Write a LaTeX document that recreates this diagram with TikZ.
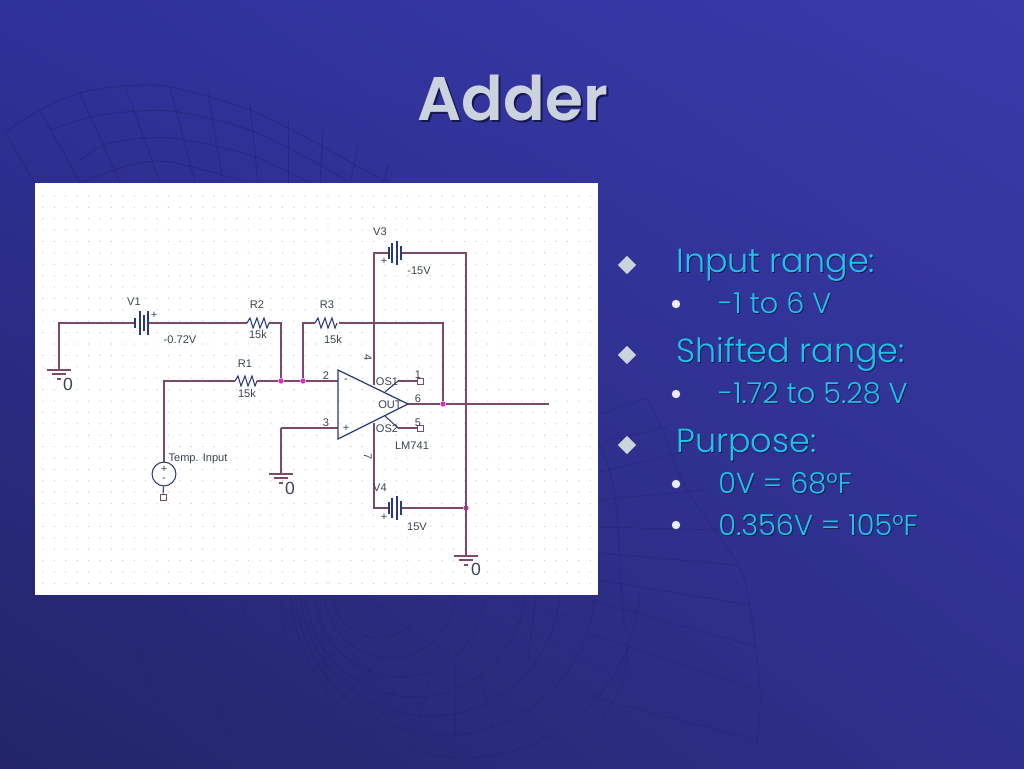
\documentclass[tikz,border=0pt]{standalone}
\usepackage{fontspec}
\setmainfont{Liberation Sans}
\newfontfamily\slidefont{Poppins Light}[BoldFont=Poppins SemiBold]
\usetikzlibrary{calc,shapes,positioning,shadings}
\definecolor{bgtl}{HTML}{2F319A}
\definecolor{bgtr}{HTML}{3A3AAA}
\definecolor{bgbl}{HTML}{232568}
\definecolor{bgbr}{HTML}{2E308C}
\definecolor{meshc}{HTML}{1C1E66}
\definecolor{wirec}{HTML}{7C4A68}
\definecolor{partc}{HTML}{2A3A78}
\definecolor{dotc}{HTML}{D62FC0}
\definecolor{labc}{HTML}{3C4454}
\definecolor{textc}{HTML}{1CC4EA}
\definecolor{titlec}{HTML}{CBD4DE}
\definecolor{shadec}{HTML}{16174F}
\tikzset{
  gnd/.pic={
    \draw[wire] (-12,0) -- (12,0);
    \draw[wire] (-7,4) -- (7,4);
    \draw[wire] (-2,9) -- (2,9);
  },
  batt/.pic={
    \foreach \d/\h in {#1} \draw[part] (\d,-\h) -- (\d,\h);
  },
  resistor/.pic={
    \draw[part] (0,0) -- ++(3,-5) -- ++(3,10) -- ++(4,-10) -- ++(3,10) -- ++(4,-10) -- ++(3,10) -- ++(2,-5);
  }
}
\begin{document}
\begin{tikzpicture}[x=0.02cm,y=-0.02cm]
    \tikzstyle{wire} = [draw=wirec, line width=0.7pt]
    \tikzstyle{part} = [draw=partc, line width=0.6pt]
    \tikzstyle{mesh} = [draw=meshc, line width=0.5pt, opacity=0.4]
    \tikzstyle{low} = [draw=meshc, line width=0.5pt, opacity=0.28]
    \tikzstyle{faint} = [draw=meshc, line width=0.4pt, opacity=0.16]
    \tikzstyle{lab} = [font=\fontsize{6.3}{7}\selectfont, text=labc, inner sep=0pt]
    \tikzstyle{junc} = [circle, fill=dotc, inner sep=0pt, minimum size=3pt]
    \tikzstyle{pinbox} = [draw=wirec, fill=white, line width=0.4pt, inner sep=0pt, minimum size=3.4pt]
    \tikzstyle{head} = [font=\slidefont\fontsize{19}{22}\selectfont, anchor=base west, inner sep=0pt]
    \tikzstyle{sub} = [font=\slidefont\fontsize{16.4}{18}\selectfont, anchor=base west, inner sep=0pt]
    \tikzstyle{dia} = [diamond, fill=titlec, inner sep=0pt, minimum size=10.5pt]
    \tikzstyle{bul} = [circle, fill=white!92!blue, inner sep=0pt, minimum size=4.8pt]

    \useasboundingbox (0,0) rectangle (1024,768);
    \shade[upper left=bgtl, upper right=bgtr, lower left=bgbl, lower right=bgbr] (0,0) rectangle (1024,768);

    % mesh top left
    \draw[mesh] plot[smooth] coordinates {(5,132) (40,110) (80,93) (125,86) (170,87) (250,110) (320,145) (355,165) (390,183)};
    \draw[mesh] plot[smooth] coordinates {(50,130) (100,115) (170,111) (250,130) (320,165) (350,183)};
    \draw[mesh] plot[smooth] coordinates {(80,160) (110,143) (170,138) (250,155) (310,183)};
    \draw[mesh] plot[smooth] coordinates {(80,183) (130,165) (170,162) (240,180)};
    \foreach \xa/\ya/\xb in {5/132/35, 40/110/80, 80/93/120, 125/86/160, 170/87/195, 208/93/223, 250/104/258, 288/118/288, 323/130/320, 358/146/350, 388/165/383}
      \draw[mesh] (\xa,\ya) -- (\xb,183);

    % mesh right of the panel
    \draw[low] plot[smooth] coordinates {(647,398) (663,432) (687,490) (737,563) (750,607) (760,690) (757,745)};
    \draw[low] plot[smooth] coordinates {(598,440) (612,480) (618,530) (623,613) (628,640) (623,680) (603,717)};
    \foreach \xa/\ya/\xb/\yb in {598/415/647/398, 598/443/667/427, 598/472/680/453, 598/500/703/490, 598/527/720/530, 598/553/737/565, 598/580/750/605, 590/600/757/647, 590/633/760/692, 590/697/757/740}
      \draw[low] (\xa,\ya) -- (\xb,\yb);

    % mesh below the panel
    \foreach \cx/\cy/\r in {378/593/45, 390/593/65, 400/592/85, 415/587/110, 430/586/130, 445/585/150, 465/583/175}
      \draw[low] plot[domain=0:180, samples=30] ({\cx+\r*cos(\x)},{max(\cy+\r*sin(\x),594)});
    \foreach \a in {15,30,...,165}
      \draw[faint] ({455+60*cos(\a)},{585+60*sin(\a)}) -- ({455+178*cos(\a)},{585+178*sin(\a)});
    \foreach \xa/\xb in {60/90, 120/170, 180/230, 240/270, 280/300, 320/330}
      \draw[faint] (\xa,596) -- (\xb,740);
    \draw[mesh] (536,595) -- (528,660);

    % panel
    \fill[white] (35,183) rectangle (598,595);
    \foreach \i in {0,...,48}
      \foreach \j in {0,...,34}
        \fill[black!20] ({43+\i*11.4},{195.8+\j*11.4}) circle (0.7);

    % title and bullets
    \node[font=\slidefont\bfseries\fontsize{35}{40}\selectfont, text=shadec, anchor=base, inner sep=0pt] (titleshade) at (515,122) {Adder};
    \node[font=\slidefont\bfseries\fontsize{35}{40}\selectfont, text=titlec, anchor=base, inner sep=0pt] (title) at (513,120) {Adder};

    \node[dia] (d1) at (627,265) {};
    \node[dia] (d2) at (627,355) {};
    \node[dia] (d3) at (627,445) {};
    \node[bul] (b1) at (676,304) {};
    \node[bul] (b2) at (676,394) {};
    \node[bul] (b3) at (676,484) {};
    \node[bul] (b4) at (676,525) {};

    % first pass is the text shadow
    \foreach \tc/\dd/\nm in {shadec/1/s, textc/0/t} {
      \node[head, text=\tc] (\nm1) at (676+\dd,272+\dd) {Input range:};
      \node[sub, text=\tc] (\nm2) at (718+\dd,313+\dd) {-1 to 6 V};
      \node[head, text=\tc] (\nm3) at (676+\dd,362+\dd) {Shifted range:};
      \node[sub, text=\tc] (\nm4) at (718+\dd,403+\dd) {-1.72 to 5.28 V};
      \node[head, text=\tc] (\nm5) at (676+\dd,452+\dd) {Purpose:};
      \node[sub, text=\tc] (\nm6) at (718+\dd,493+\dd) {0V = 68°F};
      \node[sub, text=\tc] (\nm7) at (718+\dd,535+\dd) {0.356V = 105°F};
    }

    % circuit points
    \coordinate (g1) at (59,370);
    \coordinate (a1) at (59,323);
    \coordinate (v1l) at (135,323);
    \coordinate (v1r) at (148,323);
    \coordinate (r2l) at (247,323);
    \coordinate (r2r) at (269,323);
    \coordinate (a2) at (281,323);
    \coordinate (a3) at (164,381);
    \coordinate (r1l) at (235,381);
    \coordinate (r1r) at (257,381);
    \coordinate (a4) at (303,323);
    \coordinate (r3l) at (315,323);
    \coordinate (r3r) at (339,323);
    \coordinate (a5) at (443,323);
    \coordinate (a6) at (281,428);
    \coordinate (g2) at (281,474);
    \coordinate (a7) at (374,253);
    \coordinate (v3l) at (389,253);
    \coordinate (v3r) at (401,253);
    \coordinate (a8) at (466,253);
    \coordinate (g3) at (466,556);
    \coordinate (a9) at (374,508);
    \coordinate (v4l) at (389,508);
    \coordinate (v4r) at (401,508);
    \coordinate (oa1) at (338,370);
    \coordinate (oa2) at (338,439);
    \coordinate (oa3) at (408,404);
    \coordinate (oa4) at (374,385);
    \coordinate (oa5) at (374,423);
    \coordinate (inm) at (338,381);
    \coordinate (inp) at (338,428);
    \coordinate (os1) at (385,392);
    \coordinate (os1b) at (398,381);
    \coordinate (os2) at (385,416);
    \coordinate (os2b) at (398,428);
    \coordinate (outend) at (549,404);

    \node[junc] (j1) at (281,381) {};
    \node[junc] (j2) at (303,381) {};
    \node[junc] (j3) at (443,404) {};
    \node[junc] (j4) at (466,508) {};
    \node[draw=partc, line width=0.6pt, circle, minimum size=13.6pt, inner sep=0pt, fill=white] (vs) at (164,474) {};
    \node[pinbox] (p0) at (163,497) {};
    \node[pinbox] (p1) at (420,381) {};
    \node[pinbox] (p5) at (420,428) {};

    % wires
    \draw[wire] (g1) -- (a1) -- (v1l);
    \draw[wire] (v1r) -- (r2l);
    \draw[wire] (r2r) -- (a2) -- (j1);
    \draw[wire] (vs) -- (a3) -- (r1l);
    \draw[wire] (r1r) -- (j1);
    \draw[wire] (j1) -- (j2) -- (inm);
    \draw[wire] (j2) -- (a4) -- (r3l);
    \draw[wire] (r3r) -- (a5) -- (j3);
    \draw[wire] (oa3) -- (j3) -- (outend);
    \draw[wire] (a6) -- (inp);
    \draw[wire] (g2) -- (a6);
    \draw[wire] (oa4) -- (a7) -- (v3l);
    \draw[wire] (v3r) -- (a8) -- (g3);
    \draw[wire] (oa5) -- (a9) -- (v4l);
    \draw[wire] (v4r) -- (j4);
    \draw[wire] (os1b) -- (p1);
    \draw[wire] (os2b) -- (p5);
    \draw[part] (vs) -- (p0);
    \draw[part] (os1) -- (os1b);
    \draw[part] (os2) -- (os2b);

    % parts
    \draw[part, line width=0.7pt] (oa1) -- (oa3) -- (oa2) -- cycle;
    \draw pic at (g1) {gnd};
    \draw pic at (g2) {gnd};
    \draw pic at (g3) {gnd};
    \draw pic at (v1l) {batt={0/5, 5/12, 9/8, 13/12}};
    \draw pic at (v3l) {batt={0/6, 3/10, 8/12, 12/7}};
    \draw pic at (v4l) {batt={0/6, 3/10, 8/12, 12/7}};
    \draw pic at (r1l) {resistor};
    \draw pic at (r2l) {resistor};
    \draw pic at (r3l) {resistor};

    % labels
    \node[lab] (lv1) at (134,302) {V1};
    \node[lab] (lv1v) at (180,340) {-0.72V};
    \node[lab] (lv1p) at (154,315) {+};
    \node[lab] (lr2) at (257,305) {R2};
    \node[lab] (lr2v) at (258,335) {15k};
    \node[lab] (lr1) at (245,364) {R1};
    \node[lab] (lr1v) at (247,394) {15k};
    \node[lab] (lr3) at (327,305) {R3};
    \node[lab] (lr3v) at (333,340) {15k};
    \node[lab] (lv3) at (380,232) {V3};
    \node[lab] (lv3v) at (419,271) {-15V};
    \node[lab] (lv3p) at (384,261) {+};
    \node[lab] (lv4) at (380,488) {V4};
    \node[lab] (lv4v) at (417,527) {15V};
    \node[lab] (lv4p) at (384,517) {+};
    \node[lab] (ltemp) at (198,459) {Temp. Input};
    \node[lab] (lvsp) at (164,469) {+};
    \node[lab] (lvsm) at (164,480) {-};
    \node[lab] (lu) at (412,446) {LM741};
    \node[lab] (los1) at (387,382) {OS1};
    \node[lab] (lout) at (390,405) {OUT};
    \node[lab] (los2) at (387,429) {OS2};
    \node[lab] (lm) at (346,381) {-};
    \node[lab] (lp) at (346,428) {+};
    \node[lab] (pn2) at (326,376) {2};
    \node[lab] (pn3) at (326,423) {3};
    \node[lab] (pn6) at (418,399) {6};
    \node[lab] (pn1) at (418,375) {1};
    \node[lab] (pn5) at (418,423) {5};
    \node[lab, rotate=-90] (pn4) at (368,358) {4};
    \node[lab, rotate=-90] (pn7) at (368,457) {7};
    \node[lab, font=\fontsize{10}{11}\selectfont] (z1) at (68,384) {0};
    \node[lab, font=\fontsize{10}{11}\selectfont] (z2) at (290,488) {0};
    \node[lab, font=\fontsize{10}{11}\selectfont] (z3) at (476,569) {0};
\end{tikzpicture}
\end{document}
